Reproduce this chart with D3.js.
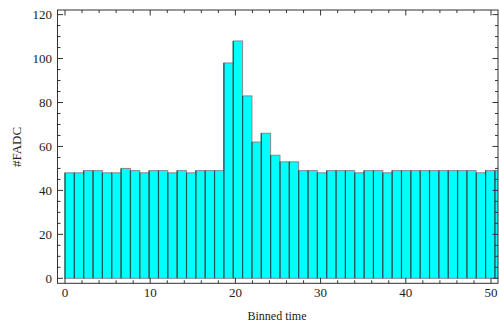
<!DOCTYPE html>
<html><head><meta charset="utf-8">
<script src="https://cdn.jsdelivr.net/npm/d3@7"></script>
<style>body{margin:0;background:#fff}</style>
</head><body>
<script>
// Data
const counts = [48,48,49,49,48,48,50,49,48,49,49,48,49,48,49,49,49,
  98,108,83,62,66,56,53,53,
  49,49,48,49,49,49,48,49,49,48,49,49,49,49,49,49,49,49,49,48,49,49];
const binWidth = 1.097; // time units per bin
const xTicks = [0,10,20,30,40,50];
const yTicks = [0,20,40,60,80,100,120];
const xLabel = "Binned time";
const yLabel = "#FADC";

const W = 499, H = 322;
const L = 57.5, R = 498, T = 10, B = 283.3;
const svg = d3.select("body").append("svg").attr("width", W).attr("height", H);

const x = d3.scaleLinear().domain([-0.88, 50.82]).range([L, R]);
const y = d3.scaleLinear().domain([-2.28, 122.1]).range([B, T]);

svg.append("clipPath").attr("id","clip").append("rect")
  .attr("x", L).attr("y", T).attr("width", R-L).attr("height", B-T);

const g = svg.append("g").attr("clip-path","url(#clip)");
const bars = g.selectAll("g.bar").data(counts).enter().append("g").attr("class","bar");
bars.append("rect")
  .attr("x", (d,i) => x(i*binWidth))
  .attr("width", (d,i) => x((i+1)*binWidth) - x(i*binWidth))
  .attr("y", d => y(d))
  .attr("height", d => y(0) - y(d))
  .attr("fill", "#00ffff")
  .attr("stroke", "#888")
  .attr("stroke-width", 1);
bars.append("line")
  .attr("x1", (d,i) => x(i*binWidth)).attr("x2", (d,i) => x(i*binWidth))
  .attr("y1", d => y(d)).attr("y2", y(0))
  .attr("stroke", "#0b5a5a").attr("stroke-width", 1.2);

const axisColor = "#333";
const font = "'Liberation Serif', 'Times New Roman', serif";

// frame
svg.append("rect").attr("x", L).attr("y", T).attr("width", R-L).attr("height", B-T)
  .attr("fill","none").attr("stroke", axisColor).attr("stroke-width", 1);

// x ticks
const xMinor = d3.range(0, 51, 2).filter(v => v % 10 !== 0);
function xt(vals, len){
  vals.forEach(v => {
    svg.append("line").attr("x1", x(v)).attr("x2", x(v)).attr("y1", B).attr("y2", B-len).attr("stroke", axisColor);
    svg.append("line").attr("x1", x(v)).attr("x2", x(v)).attr("y1", T).attr("y2", T+len).attr("stroke", axisColor);
  });
}
xt(xTicks, 5.5); xt(xMinor, 3);
const yMinor = d3.range(0, 121, 5).filter(v => v % 20 !== 0);
function yt(vals, len){
  vals.forEach(v => {
    svg.append("line").attr("x1", L).attr("x2", L+len).attr("y1", y(v)).attr("y2", y(v)).attr("stroke", axisColor);
    svg.append("line").attr("x1", R).attr("x2", R-len).attr("y1", y(v)).attr("y2", y(v)).attr("stroke", axisColor);
  });
}
yt(yTicks, 5.5); yt(yMinor, 3);

svg.selectAll("text.xt").data(xTicks).enter().append("text")
  .attr("x", d => x(d)).attr("y", 297).attr("text-anchor","middle")
  .style("font-family", font).style("font-size","13px").attr("fill","#222").text(d => d);
svg.selectAll("text.yt").data(yTicks).enter().append("text")
  .attr("x", 52).attr("y", d => y(d)+4.5).attr("text-anchor","end")
  .style("font-family", font).style("font-size","13px").attr("fill","#222").text(d => d);

svg.append("text").attr("x", 277).attr("y", 319.5).attr("text-anchor","middle")
  .style("font-family", font).style("font-size","12px").attr("fill","#222").text(xLabel);
svg.append("text").attr("transform","translate(21,147) rotate(-90)").attr("text-anchor","middle")
  .style("font-family", font).style("font-size","13px").attr("fill","#222").text(yLabel);
</script>
</body></html>
